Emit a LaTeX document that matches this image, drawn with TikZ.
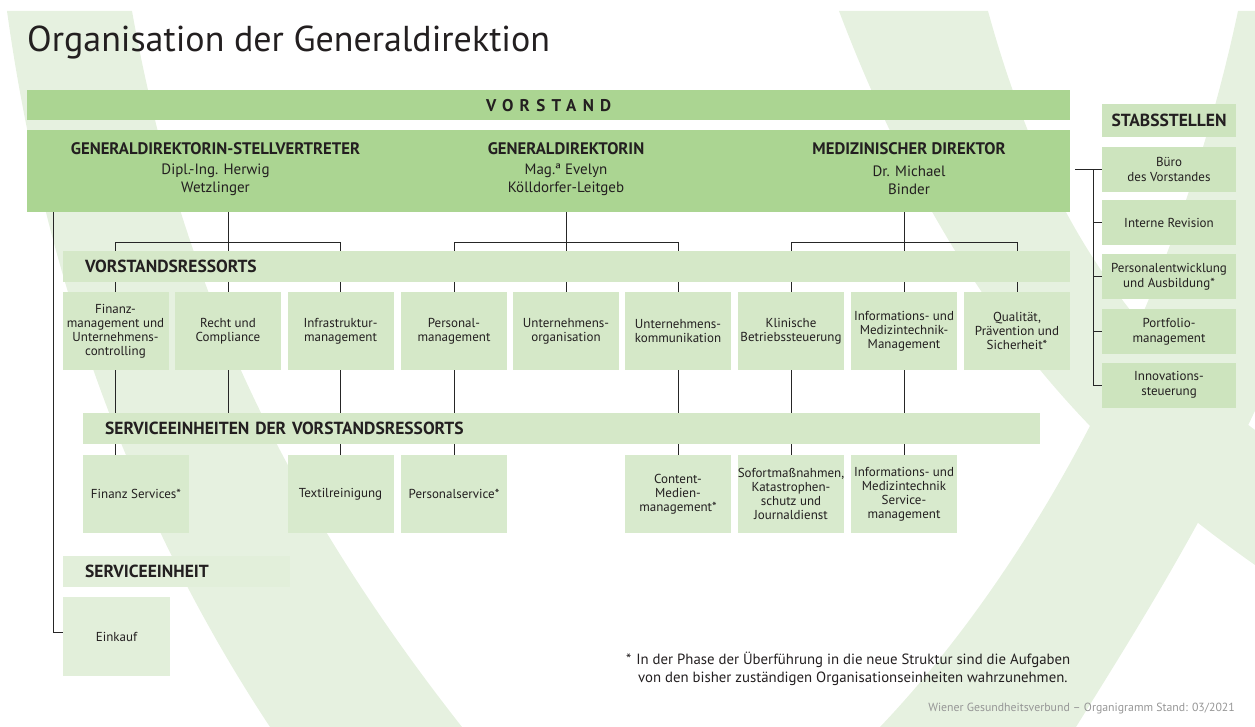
\documentclass[tikz,border=0pt]{standalone}
\usepackage{fontspec}
\setmainfont{PT Sans}
\usetikzlibrary{calc}
\definecolor{bgsw}{RGB}{230,241,224}
\definecolor{vgreen}{RGB}{171,213,146}
\definecolor{rgreen}{RGB}{213,232,200}
\definecolor{sgreen}{RGB}{216,234,205}
\definecolor{stgreen}{RGB}{205,228,190}
\definecolor{egreen}{RGB}{226,239,218}
\definecolor{txt}{RGB}{35,31,32}
\definecolor{foot}{RGB}{150,150,150}
\pgfdeclarelayer{back}
\pgfdeclarelayer{mid}
\pgfsetlayers{back,mid,main}
\tikzset{
  every node/.style={inner sep=0pt, text=txt},
  rbox/.style={fill=rgreen, align=center, minimum width=106, minimum height=78, font=\fontsize{13}{14}\selectfont},
  sbox/.style={fill=sgreen, align=center, minimum width=106, minimum height=78, font=\fontsize{13}{14}\selectfont},
  stbox/.style={fill=stgreen, align=center, minimum width=134, minimum height=45, font=\fontsize{13}{15}\selectfont},
  bar/.style={anchor=north west, minimum height=31, inner xsep=22, align=left, font=\bfseries\fontsize{17.5}{20}\selectfont},
  hdr/.style={font=\bfseries\fontsize{16.7}{20}\selectfont},
  pname/.style={align=center, font=\fontsize{15}{18}\selectfont},
  conn/.style={draw=black!85, line width=0.8pt},
  swoosh/.style={fill=bgsw, draw=none}
}
\begin{document}
\begin{tikzpicture}[x=1pt,y=-1pt]
\useasboundingbox (0,0) rectangle (1255,727);
% background swooshes
\begin{pgfonlayer}{back}
\begin{scope}
\clip (0,0) rectangle (1255,727);
\fill[swoosh] (7,11) -- (132,11) .. controls (175,250) and (260,470) .. (462,727) -- (270,727) .. controls (120,500) and (40,250) .. (7,11) -- cycle;
\fill[swoosh] (839,11) -- (988,11) .. controls (1040,200) and (1120,330) .. (1255,430) -- (1255,565) .. controls (1120,470) and (960,330) .. (839,11) -- cycle;
\fill[swoosh] (1238,11) -- (1260,11) -- (1260,400) .. controls (1200,530) and (1130,640) .. (1076,727) -- (880,727) .. controls (1020,580) and (1170,330) .. (1238,11) -- cycle;
\end{scope}
\end{pgfonlayer}

% title
\node[anchor=base west, font=\fontsize{36}{42}\selectfont] (title) at (27,52) {Organisation der Generaldirektion};

% Vorstand
\node[fill=vgreen, anchor=north west, minimum width=1043, minimum height=30, font=\bfseries\fontsize{17}{18}\selectfont] (vorstand) at (27,90) {\addfontfeatures{LetterSpace=37}VORSTAND};
\node[fill=vgreen, anchor=north west, minimum width=1043, minimum height=82] (topbox) at (27,130) {};
\node[hdr] (h1) at (215.5,149) {GENERALDIREKTORIN-STELLVERTRETER};
\node[pname] (n1) at (215.5,180) {Dipl.-Ing. Herwig\\Wetzlinger};
\node[hdr] (h2) at (566,149) {GENERALDIREKTORIN};
\node[pname] (n2) at (566,180) {Mag.ª Evelyn\\Kölldorfer-Leitgeb};
\node[hdr] (h3) at (909,149) {MEDIZINISCHER DIREKTOR};
\node[pname] (n3) at (909,180) {Dr. Michael\\Binder};

% Stabsstellen
\node[fill=stgreen, minimum width=134, minimum height=33, font=\bfseries\fontsize{17.5}{20}\selectfont] (stab) at (1169,120.5) {STABSSTELLEN};
\node[stbox] (buero) at (1169,169.5) {Büro\\des Vorstandes};
\node[stbox] (revision) at (1169,222.5) {Interne Revision};
\node[stbox] (pentw) at (1169,276.5) {Personalentwicklung\\und Ausbildung*};
\node[stbox] (portfolio) at (1169,331.5) {Portfolio-\\management};
\node[stbox] (innov) at (1169,385) {Innovations-\\steuerung};

% Vorstandsressorts
\node[bar, fill=rgreen, text width=963] (rbar) at (63,251) {VORSTANDSRESSORTS};
\node[rbox] (finanz) at (115.5,331) {Finanz-\\management und\\Unternehmens-\\controlling};
\node[rbox] (recht) at (228,331) {Recht und\\Compliance};
\node[rbox] (infra) at (340.5,331) {Infrastruktur-\\management};
\node[rbox] (personal) at (454,331) {Personal-\\management};
\node[rbox] (uorg) at (566,331) {Unternehmens-\\organisation};
\node[rbox] (ukomm) at (678,331) {Unternehmens-\\kommunikation};
\node[rbox] (klinisch) at (791,331) {Klinische\\Betriebssteuerung};
\node[rbox] (imm) at (904,331) {Informations- und\\Medizintechnik-\\Management};
\node[rbox] (qual) at (1017,331) {Qualität,\\Prävention und\\Sicherheit*};

% Serviceeinheiten der Vorstandsressorts
\node[bar, fill=rgreen, text width=913] (sbar) at (83,413) {SERVICEEINHEITEN DER VORSTANDSRESSORTS};
\node[sbox] (fserv) at (136,494) {Finanz Services*};
\node[sbox] (textil) at (340.5,494) {Textilreinigung};
\node[sbox] (pservice) at (454,494) {Personalservice*};
\node[sbox] (content) at (678,494) {Content-\\Medien-\\management*};
\node[sbox] (sofort) at (791,494) {Sofortmaßnahmen,\\Katastrophen-\\schutz und\\Journaldienst};
\node[sbox] (imsm) at (904,494) {Informations- und\\Medizintechnik\\Service-\\management};

% Serviceeinheit
\node[bar, fill=egreen, text width=183] (ebar) at (63,556) {SERVICEEINHEIT};
\node[sbox, fill=egreen, minimum width=107, minimum height=79] (einkauf) at (116.5,636.5) {Einkauf};

% footnote and footer
\node[anchor=base west, font=\fontsize{14.8}{17}\selectfont] (fn1) at (626,664) {*\hspace{5pt}In der Phase der Überführung in die neue Struktur sind die Aufgaben};
\node[anchor=base west, font=\fontsize{14.8}{17}\selectfont] (fn2) at (638,682) {von den bisher zuständigen Organisationseinheiten wahrzunehmen.};
\node[anchor=base east, text=foot, font=\fontsize{11.8}{13}\selectfont] (footer) at (1235,711) {Wiener Gesundheitsverbund – Organigramm Stand: 03/2021};

% connectors
\begin{pgfonlayer}{mid}
\coordinate (j) at (0,242);
% group 1
\draw[conn] (topbox.south -| recht) -- (recht.north);
\draw[conn] (finanz.north) -- (finanz.north |- j) -- (infra.north |- j) -- (infra.north);
% group 2
\draw[conn] (topbox.south -| uorg) -- (uorg.north);
\draw[conn] (personal.north) -- (personal.north |- j) -- (ukomm.north |- j) -- (ukomm.north);
% group 3
\draw[conn] (topbox.south -| imm) -- (imm.north);
\draw[conn] (klinisch.north) -- (klinisch.north |- j) -- (qual.north |- j) -- (qual.north);
% to service units
\draw[conn] (finanz.south) -- (finanz.south |- fserv.north);
\draw[conn] (recht.south) -- (recht.south |- sbar.north);
\draw[conn] (infra.south) -- (textil.north);
\draw[conn] (personal.south) -- (pservice.north);
\draw[conn] (ukomm.south) -- (content.north);
\draw[conn] (klinisch.south) -- (sofort.north);
\draw[conn] (imm.south) -- (imsm.north);
% Serviceeinheit
\coordinate (sv) at (53,0);
\draw[conn] (topbox.south -| sv) |- ($(einkauf.west)+(0,-4.5)$);
% Stabsstellen
\coordinate (ss) at (1075,169.5);
\coordinate (sj) at (1093,0);
\draw[conn] (ss) -- (buero.west);
\draw[conn] (buero.west -| sj) -- (innov.west -| sj) -- (innov.west);
\draw[conn] (revision.west -| sj) -- (revision.west);
\draw[conn] (pentw.west -| sj) -- (pentw.west);
\draw[conn] (portfolio.west -| sj) -- (portfolio.west);
\end{pgfonlayer}
\end{tikzpicture}
\end{document}
